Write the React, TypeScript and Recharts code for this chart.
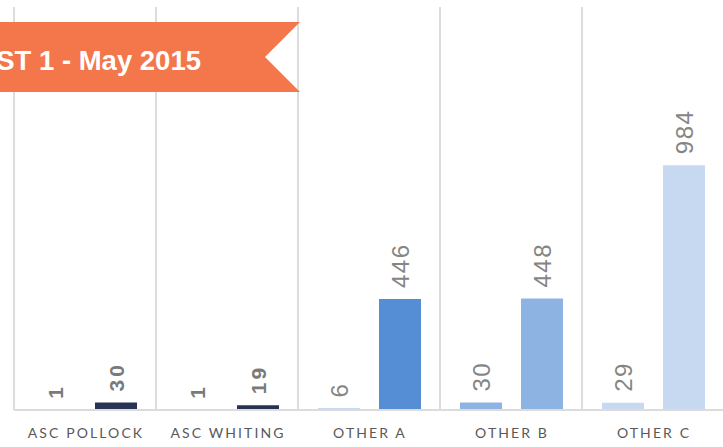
import React from 'react';
import { BarChart, Bar, XAxis, YAxis, Cell, LabelList, ReferenceLine } from 'recharts';

const categories = ['ASC POLLOCK', 'ASC WHITING', 'OTHER A', 'OTHER B', 'OTHER C'];
const seriesFirst = [1, 1, 6, 30, 29];
const seriesSecond = [30, 19, 446, 448, 984];
const firstBarColors = ['#263352', '#263352', '#8DB3E2', '#8DB3E2', '#C6D9F1'];
const secondBarColors = ['#263352', '#263352', '#558ED5', '#8DB3E2', '#C6D9F1'];
const boldLabelCategories = ['ASC POLLOCK', 'ASC WHITING'];
const bannerText = 'ST 1 - May 2015';

const data = categories.map((name, i) => ({
  name,
  first: seriesFirst[i],
  second: seriesSecond[i],
}));

const GRID = '#dcdcdc';

const makeLabel = (props: any) => {
  const { x, y, width, value, index } = props;
  const cat = categories[index];
  const bold = boldLabelCategories.includes(cat);
  const cx = Number(x) + Number(width) / 2;
  const ty = Number(y) - 11;
  return (
    <text
      transform={`translate(${cx},${ty}) rotate(-90)`}
      textAnchor="start"
      dominantBaseline="central"
      fontFamily="'Liberation Sans', Arial, sans-serif"
      fontSize={bold ? 21 : 24}
      fontWeight={bold ? 700 : 400}
      letterSpacing={bold ? 3 : 1.5}
      fill={bold ? '#7a7a7a' : '#858585'}
    >
      {value}
    </text>
  );
};

const AxisTick = (props: any) => {
  const { x, y, payload } = props;
  return (
    <text
      x={Number(x) + 1}
      y={Number(y) + 28}
      textAnchor="middle"
      fontFamily="Lato, 'Liberation Sans', sans-serif"
      fontSize={14}
      letterSpacing={2.1}
      fill="#595959"
    >
      {payload.value}
    </text>
  );
};

export default function App() {
  return (
    <div style={{ position: 'fixed', left: 0, top: 0, width: 723, height: 447, overflow: 'hidden', background: '#fff' }}>
      <BarChart
        width={740}
        height={447}
        data={data}
        margin={{ top: 7, right: 16, bottom: 0, left: 14 }}
        barCategoryGap={20}
        barGap={19}
      >
        <XAxis
          dataKey="name"
          height={37}
          interval={0}
          tickLine={false}
          tickSize={0}
          tickMargin={0}
          axisLine={{ stroke: GRID, strokeWidth: 2 }}
          tick={<AxisTick />}
        />
        <YAxis hide domain={[0, 1620]} />
        {categories.map((c) => (
          <ReferenceLine key={c} x={c} position="start" stroke={GRID} strokeWidth={2} />
        ))}
        <ReferenceLine x={categories[categories.length - 1]} position="end" stroke={GRID} strokeWidth={2} />
        <Bar dataKey="first" isAnimationActive={false}>
          {data.map((d, i) => (
            <Cell key={d.name} fill={firstBarColors[i]} />
          ))}
          <LabelList dataKey="first" content={makeLabel} />
        </Bar>
        <Bar dataKey="second" isAnimationActive={false}>
          {data.map((d, i) => (
            <Cell key={d.name} fill={secondBarColors[i]} />
          ))}
          <LabelList dataKey="second" content={makeLabel} />
        </Bar>
      </BarChart>
      <svg
        width={723}
        height={447}
        style={{ position: 'absolute', left: 0, top: 0, pointerEvents: 'none' }}
      >
        <polygon points="0,22 300,22 265,57 300,92 0,92" fill="#F3774B" />
        <text
          x={201}
          y={70}
          textAnchor="end"
          fontFamily="'Liberation Sans', Arial, sans-serif"
          fontWeight={700}
          fontSize={27.5}
          fill="#ffffff"
        >
          {bannerText}
        </text>
      </svg>
    </div>
  );
}
